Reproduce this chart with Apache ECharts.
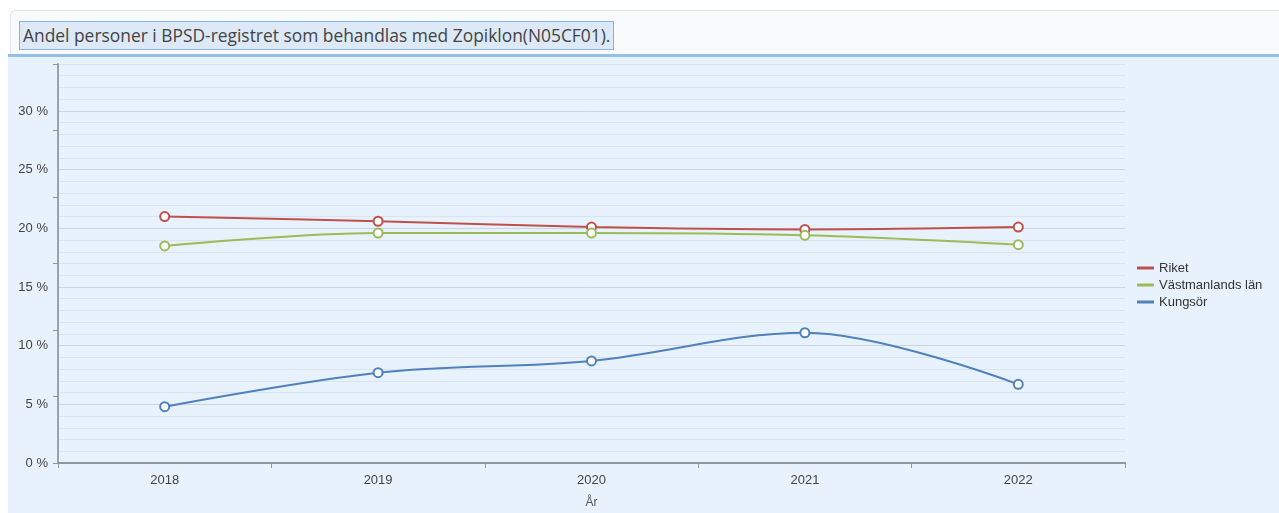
<!DOCTYPE html>
<html>
<head>
<meta charset="utf-8">
<script src="https://cdn.jsdelivr.net/npm/echarts@6/dist/echarts.min.js"></script>
<style>
body{margin:0;background:#fff;width:1279px;height:513px;overflow:hidden;position:relative;font-family:"Open Sans",sans-serif;}
#head{position:absolute;left:10px;top:10px;width:1269px;height:44px;background:#f9fafb;border-top:1px solid #e1e4e8;border-left:1px solid #e1e4e8;border-top-left-radius:5px;box-sizing:border-box;}
#title{position:absolute;left:8px;top:10px;height:29px;line-height:27px;padding:0 3px;background:#dde9f6;border:1px solid #84b5e6;box-sizing:border-box;font-size:17.4px;color:#444;white-space:nowrap;}
#bar{position:absolute;left:8px;top:54px;width:1271px;height:3px;background:#93bfe8;}
#chart{position:absolute;left:8px;top:57px;width:1271px;height:456px;background:#e8f2fc;}
</style>
</head>
<body>
<div id="head"><div id="title">Andel personer i BPSD-registret som behandlas med Zopiklon(N05CF01).</div></div>
<div id="bar"></div>
<div id="chart"></div>
<script>
var years = ['2018','2019','2020','2021','2022'];
var riket = [21.0, 20.6, 20.1, 19.9, 20.1];
var vastmanland = [18.5, 19.6, 19.6, 19.4, 18.6];
var kungsor = [4.8, 7.7, 8.7, 11.1, 6.7];

(function(){
var chart = echarts.init(document.getElementById('chart'));

// var 5:e linje är huvudlinje, övriga ljusare
var gridColors = ['#cad5e0','#dae4ee','#dae4ee','#dae4ee','#dae4ee'];

function serie(name, color, data){
    return {
        name: name,
        type: 'line',
        smooth: 0.35,
        symbol: 'emptyCircle',
        symbolSize: 9,
        data: data,
        itemStyle: {color: color, borderWidth: 2},
        lineStyle: {color: color, width: 2}
    };
}

var option = {
    animation: false,
    textStyle: {fontFamily: 'Arial, "Liberation Sans", sans-serif'},
    grid: {left: 50, right: 154, top: 7, bottom: 50, outerBoundsMode: 'none'},
    legend: {
        orient: 'vertical',
        left: 1124,
        top: 'middle',
        itemWidth: 17,
        itemHeight: 3,
        itemGap: 4,
        icon: 'rect',
        textStyle: {color: '#333', fontSize: 13},
        data: ['Riket','Västmanlands län','Kungsör']
    },
    xAxis: {
        type: 'category',
        data: years,
        name: 'År',
        nameLocation: 'middle',
        nameGap: 34,
        nameTextStyle: {color: '#555', fontSize: 12},
        axisLine: {lineStyle: {color: '#8e969e', width: 2}},
        axisTick: {show: true, length: 5, lineStyle: {color: '#8e969e'}},
        axisLabel: {color: '#444', fontSize: 13, margin: 11}
    },
    yAxis: [
        {
            type: 'value',
            min: 0,
            max: 34,
            interval: 1,
            axisLine: {show: true, lineStyle: {color: '#9aa2aa', width: 2}},
            axisTick: {show: false},
            axisLabel: {
                color: '#444',
                fontSize: 13,
                margin: 10,
                formatter: function(v){ return v % 5 === 0 ? v + ' %' : ''; }
            },
            splitLine: {show: true, lineStyle: {color: gridColors, width: 1}}
        },
        {
            type: 'value',
            position: 'left',
            min: 0,
            max: 30,
            interval: 5,
            axisLine: {show: false},
            axisTick: {show: true, length: 5, lineStyle: {color: '#8e969e'}},
            axisLabel: {show: false},
            splitLine: {show: false}
        }
    ],
    series: [
        serie('Riket', '#c0504d', riket),
        serie('Västmanlands län', '#9bbb59', vastmanland),
        serie('Kungsör', '#4f81bd', kungsor)
    ]
};

chart.setOption(option);
})();
</script>
</body>
</html>
